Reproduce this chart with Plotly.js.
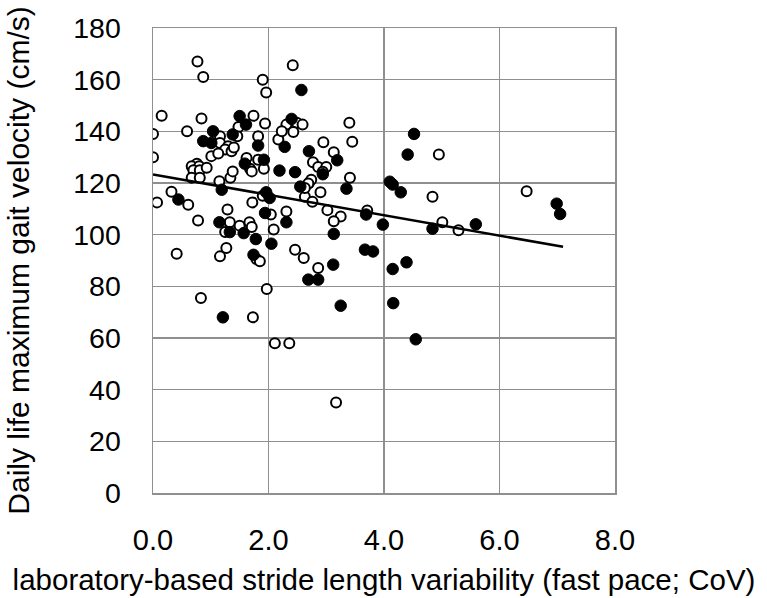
<!DOCTYPE html>
<html>
<head>
<meta charset="utf-8">
<script src="https://cdn.plot.ly/plotly-3.0.1.min.js"></script>
<style>html,body{margin:0;padding:0;background:#fff;}#chart{width:767px;height:598px;}</style>
</head>
<body>
<div id="chart"></div>
<script>
// Open circles (one group)
const openX = [0.00,0.00,0.15,0.07,0.32,0.61,0.78,0.77,0.87,0.84,0.59,0.41,0.83,1.90,1.96,1.74,1.94,2.42,3.40,3.45,4.95,6.47,4.84,5.29,5.01,2.70,2.90,2.63,2.76,2.31,3.02,3.25,3.13,3.71,2.46,2.61,2.86,2.11,2.36,3.17,1.29,1.33,1.25,1.50,1.67,1.71,2.09,2.04,1.90,1.27,1.16,1.79,1.85,1.97,1.73,1.48,1.46,1.16,1.16,1.30,1.25,1.36,1.40,1.01,1.13,1.62,1.68,1.82,0.76,0.67,0.80,0.70,0.81,0.93,0.67,0.81,1.15,1.34,1.38,1.72,1.82,2.17,2.31,2.49,2.23,2.43,2.95,3.13,1.92,2.77,2.86,3.00,2.94,3.41,2.74,2.69,2.63,2.59,1.71];
const openY = [139,130,146,112.5,116.6,111.6,105.5,167,161,145,140,92.6,75.5,160,155,146,143,165.6,143.3,136,131,116.8,114.7,101.7,104.8,120,116.4,114.7,112.7,109,109.5,107,105.2,109.4,94.2,91,87.1,58,58,35,109.7,104.8,101,103.5,104.8,103,102,107.8,115.1,94.8,91.6,90.6,89.7,79,68,141.7,138.1,138.1,135.5,134.2,133,132.3,133.7,130.4,131.4,129.7,125.5,129,127.5,126.5,126.5,124.9,124.9,125.9,122,122,120.7,122,124.5,112.5,138.1,136.8,142.6,143.3,140,139.7,135.8,131.9,125.5,128,126.2,126.2,124.4,122,121.3,119.8,118.1,142.6,124.5];
// Filled circles (other group)
const fillX = [2.57,4.52,4.41,6.99,7.05,5.59,4.84,2.55,3.35,4.10,4.15,4.29,2.31,3.69,3.98,3.13,3.12,2.69,2.86,3.67,3.81,4.15,4.39,3.25,4.16,4.55,0.44,1.15,1.33,1.57,1.78,2.05,1.94,1.96,2.02,1.19,1.74,1.21,1.50,1.61,1.04,1.38,0.87,1.01,1.59,2.40,1.82,2.28,2.70,3.19,1.92,2.19,2.46,2.94];
const fillY = [156,139,131,112,108,104,102.3,118.6,117.8,120.5,119.4,116.4,104.8,107.8,103.9,100.3,88.4,82.6,82.6,94.2,93.5,86.7,89.3,72.5,73.5,59.5,113.6,104.8,101,100.6,98.3,96.5,108.4,116.4,114.2,117.4,92.2,68,145.9,142.6,140,138.8,136.2,135.5,127.5,144.8,134.5,134,132.3,128.8,129,124.8,124.2,123.4];
// Linear trend line end points
const trendX = [0, 7.1];
const trendY = [123.3, 95.3];
const xTicks = [0,2,4,6,8];
const xTickText = ["0.0","2.0","4.0","6.0","8.0"];
const yTicks = [0,20,40,60,80,100,120,140,160,180];

const FONT = "Liberation Sans, Arial, sans-serif";
const grid = "#8f8f8f";

const traces = [
  {x: openX, y: openY, type: "scatter", mode: "markers",
   marker: {symbol: "circle", size: 10, color: "#ffffff", line: {color: "#000", width: 2}}, hoverinfo: "x+y"},
  {x: fillX, y: fillY, type: "scatter", mode: "markers",
   marker: {symbol: "circle", size: 11.5, color: "#000", line: {color: "#000", width: 1}}, hoverinfo: "x+y"},
  {x: trendX, y: trendY, type: "scatter", mode: "lines",
   line: {color: "#000", width: 2.6}, hoverinfo: "skip"}
];

const layout = {
  width: 767, height: 598,
  margin: {l: 153, r: 152, t: 28, b: 105, pad: 0},
  paper_bgcolor: "#fff", plot_bgcolor: "#fff",
  showlegend: false,
  font: {family: FONT, color: "#000"},
  xaxis: {
    range: [0, 8], tickvals: xTicks, ticktext: xTickText,
    showgrid: true, gridcolor: grid, gridwidth: 1.5,
    showline: true, linecolor: grid, linewidth: 1.5, mirror: true,
    zeroline: false, ticks: "", ticklabelstandoff: 21,
    tickfont: {family: FONT, size: 29, color: "#000"},
    title: {text: "laboratory-based stride length variability (fast pace; CoV)",
            font: {family: FONT, size: 29.5, color: "#000"}, standoff: 14},
    automargin: false, fixedrange: true
  },
  yaxis: {
    range: [0, 180], tickvals: yTicks,
    showgrid: true, gridcolor: grid, gridwidth: 1.5,
    showline: true, linecolor: grid, linewidth: 1.5, mirror: true,
    zeroline: false, ticks: "", ticklabelstandoff: 25,
    tickfont: {family: FONT, size: 28.5, color: "#000"},
    title: {text: "Daily life maximum gait velocity (cm/s)",
            font: {family: FONT, size: 30, color: "#000"}, standoff: 34},
    automargin: false, fixedrange: true
  }
};

Plotly.newPlot("chart", traces, layout, {displayModeBar: false, staticPlot: true});
</script>
</body>
</html>
